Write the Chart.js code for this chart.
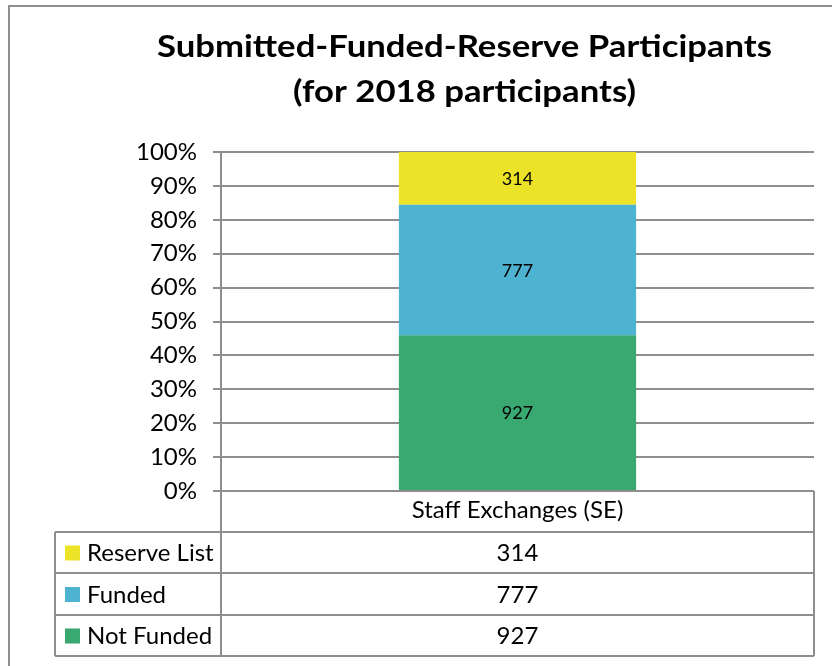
<!DOCTYPE html>
<html>
<head>
<meta charset="utf-8">
<script src="https://cdn.jsdelivr.net/npm/chart.js@4/dist/chart.umd.min.js"></script>
<style>
  html, body { margin: 0; padding: 0; background: #fff; }
  #wrap { width: 832px; height: 666px; position: relative; }
</style>
</head>
<body>
<div id="wrap"><canvas id="c" width="832" height="666"></canvas></div>
<script>
// ---- data ----
const categories = ['Staff Exchanges (SE)'];
const seriesNames = ['Not Funded', 'Funded', 'Reserve List'];
const notFunded = [927];
const funded = [777];
const reserveList = [314];
const titleLines = ['Submitted-Funded-Reserve Participants', '(for 2018 participants)'];
const yTickStep = 10;

// ---- styles ----
const seriesColors = ['#3aa871', '#4eb2d1', '#ece228'];
const gridGray = '#8e8e8e';
const FONT = 'Lato';

const counts = [notFunded, funded, reserveList];
const totals = categories.map((_, i) => counts.reduce((s, arr) => s + arr[i], 0));
const pct = counts.map(arr => arr.map((v, i) => v / totals[i] * 100));

const datasets = seriesNames.map((name, k) => ({
  label: name,
  data: pct[k],
  rawCounts: counts[k],
  backgroundColor: seriesColors[k],
  borderWidth: 0,
  categoryPercentage: 1.0,
  barPercentage: 0.4
}));

const decorPlugin = {
  id: 'decor',
  afterDatasetsDraw(chart) {
    const ctx = chart.ctx;
    ctx.save();
    ctx.font = '18px ' + FONT;
    ctx.fillStyle = '#000';
    ctx.textAlign = 'center';
    ctx.textBaseline = 'middle';
    chart.data.datasets.forEach((ds, k) => {
      const meta = chart.getDatasetMeta(k);
      meta.data.forEach((el, i) => {
        const cy = (el.y + el.base) / 2;
        ctx.fillText(String(ds.rawCounts[i]), el.x, cy + 1);
      });
    });
    ctx.restore();
  },
  afterDraw(chart) {
    const ctx = chart.ctx;
    const area = chart.chartArea;
    const xs = chart.scales.x;
    ctx.save();
    // outer frame
    ctx.strokeStyle = gridGray;
    ctx.lineWidth = 2;
    ctx.beginPath();
    ctx.moveTo(9, 666);
    ctx.lineTo(9, 6);
    ctx.lineTo(832, 6);
    ctx.stroke();

    // title
    ctx.fillStyle = '#000';
    ctx.font = 'bold 30px ' + FONT;
    ctx.textBaseline = 'alphabetic';
    ctx.textAlign = 'center';
    const w1 = ctx.measureText(titleLines[0]).width;
    const sx = 615 / w1;
    const cx = 464.5;
    const baselines = [57, 102];
    titleLines.forEach((t, i) => {
      ctx.save();
      ctx.translate(cx, baselines[i]);
      ctx.scale(sx, 1);
      ctx.fillText(t, 0, 0);
      ctx.restore();
    });

    // data table
    const left = 55, right = area.right, axisX = area.left;
    const top = area.bottom;
    const rowsY = [532, 573, 615, 656];
    ctx.strokeStyle = gridGray;
    ctx.lineWidth = 2;
    ctx.beginPath();
    rowsY.forEach(y => { ctx.moveTo(left, y); ctx.lineTo(right, y); });
    ctx.moveTo(left, rowsY[0]); ctx.lineTo(left, rowsY[3]);
    ctx.moveTo(axisX, top); ctx.lineTo(axisX, rowsY[3]);
    ctx.moveTo(right, top); ctx.lineTo(right, rowsY[3]);
    ctx.stroke();

    const order = [2, 1, 0];
    ctx.font = '24px ' + FONT;
    ctx.textBaseline = 'middle';
    order.forEach((k, r) => {
      const ds = chart.data.datasets[k];
      const cy = (rowsY[r] + rowsY[r + 1]) / 2;
      ctx.fillStyle = ds.backgroundColor;
      ctx.fillRect(65, cy - 7, 15, 15);
      ctx.fillStyle = '#000';
      ctx.textAlign = 'left';
      ctx.fillText(ds.label, 87, cy + 1);
      ctx.textAlign = 'center';
      categories.forEach((c, i) => {
        ctx.fillText(String(ds.rawCounts[i]), xs.getPixelForValue(i), cy + 1);
      });
    });
    ctx.restore();
  }
};

new Chart(document.getElementById('c'), {
  type: 'bar',
  data: { labels: categories, datasets },
  options: {
    responsive: false,
    animation: false,
    layout: { padding: { top: 152, right: 18, bottom: 0, left: 0 } },
    plugins: {
      legend: { display: false },
      title: { display: false },
      tooltip: { enabled: false }
    },
    scales: {
      x: {
        stacked: true,
        grid: { display: false, drawTicks: false },
        border: { display: false },
        ticks: { color: '#000', font: { family: FONT, size: 24 }, padding: 5 },
        afterFit(scale) { scale.height = 175; }
      },
      y: {
        stacked: true,
        min: 0,
        max: 100,
        ticks: {
          stepSize: yTickStep,
          color: '#000',
          font: { family: FONT, size: 24 },
          padding: 16,
          callback: v => v + '%'
        },
        grid: { color: gridGray, lineWidth: 2, tickLength: 8 },
        border: { color: gridGray, width: 2 },
        afterFit(scale) { scale.width = 221; }
      }
    }
  },
  plugins: [decorPlugin]
});
</script>
</body>
</html>
